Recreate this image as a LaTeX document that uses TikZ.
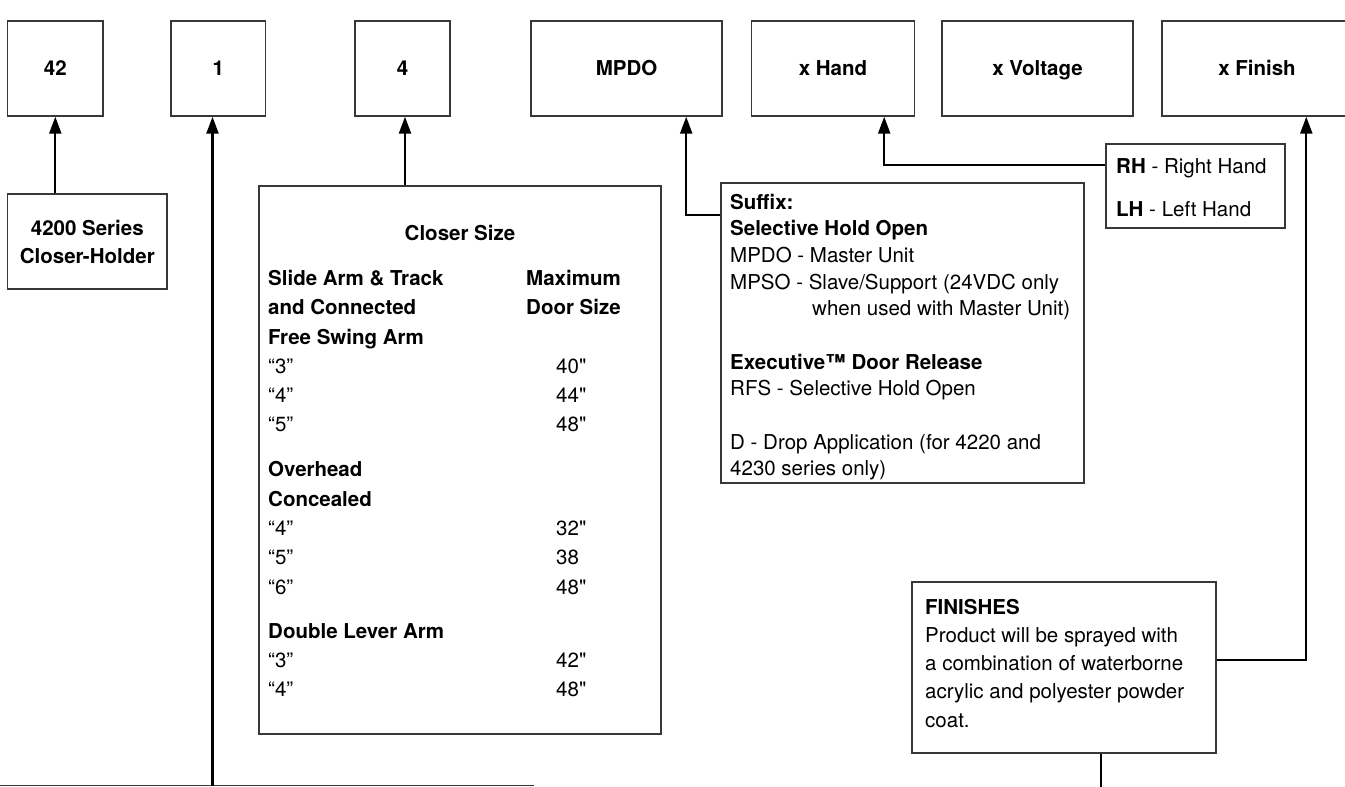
\documentclass[tikz,border=0pt]{standalone}
\usepackage{fontspec}
\setmainfont{TeX Gyre Heros}
\usetikzlibrary{arrows.meta}
\begin{document}
\begin{tikzpicture}[x=1pt,y=-1pt,
  box/.style={draw=black!78, line width=1.4pt, inner sep=0pt, fill=white,
    font=\fontsize{20.5}{24}\selectfont\bfseries},
  topbox/.style={box, minimum height=95pt, text height=19.1pt, text depth=4.3pt},
  arr/.style={line width=2.3pt, -{Triangle[length=17pt,width=12pt]}},
  wire/.style={line width=2.3pt},
  thinwire/.style={line width=1.4pt, draw=black!78},
  tx/.style={anchor=base west, inner sep=0pt, font=\fontsize{20.5}{24}\selectfont},
]
\useasboundingbox (0,0) rectangle (1345,787);

% top row
\node[topbox, minimum width=95.4pt] (b42) at (55.3,68.5) {42};
\node[topbox, minimum width=94.6pt] (b1) at (218.3,68.5) {1};
\node[topbox, minimum width=95pt] (b4) at (402.5,68.5) {4};
\node[topbox, minimum width=191pt] (mp) at (626.5,68.5) {MPDO};
\node[topbox, minimum width=163pt] (hand) at (833,68.5) {x Hand};
\node[topbox, minimum width=191pt] (volt) at (1037.5,68.5) {x Voltage};
\node[topbox, minimum width=190pt] (fin) at (1257,68.5) {x Finish};

% info boxes
\node[box, minimum width=159.4pt, minimum height=95pt, align=center,
  font=\fontsize{20.5}{28}\selectfont\bfseries] (ser) at (87.3,241.5) {4200 Series\\Closer-Holder};
\node[box, minimum width=402pt, minimum height=548pt] (closer) at (460,460) {};
\node[box, minimum width=363pt, minimum height=300pt] (suf) at (902.5,333) {};
\node[box, minimum width=179pt, minimum height=84pt] (rh) at (1195.5,186) {};
\node[box, minimum width=304pt, minimum height=171pt] (fb) at (1064,667.5) {};

% closer size text
\node[tx, anchor=base, font=\fontsize{20.5}{24}\selectfont\bfseries] (ctitle) at (460,240.3) {Closer Size};
\foreach \yy/\lab [count=\i] in {
  285.3/{\textbf{Slide Arm \& Track}},
  314.3/{\textbf{and Connected}},
  344.3/{\textbf{Free Swing Arm}},
  373.3/{“3”}, 402.3/{“4”}, 431.3/{“5”},
  476.3/{\textbf{Overhead}},
  506.3/{\textbf{Concealed}},
  535.3/{“4”}, 564.3/{“5”}, 594.3/{“6”},
  638.3/{\textbf{Double Lever Arm}},
  667.3/{“3”}, 696.3/{“4”}}
  \node[tx] (cl\i) at (268,\yy) {\lab};
\node[tx, font=\fontsize{20.5}{24}\selectfont\bfseries] (cmax) at (526,285.3) {Maximum};
\node[tx, font=\fontsize{20.5}{24}\selectfont\bfseries] (cdoor) at (526,314.3) {Door Size};
\foreach \yy/\lab [count=\i] in {
  373.3/{40\textquotedbl}, 402.3/{44\textquotedbl}, 431.3/{48\textquotedbl},
  535.3/{32\textquotedbl}, 564.3/{38}, 594.3/{48\textquotedbl},
  667.3/{42\textquotedbl}, 696.3/{48\textquotedbl}}
  \node[tx] (cr\i) at (556,\yy) {\lab};

% suffix text
\foreach \yy/\lab [count=\i] in {
  209.3/{\textbf{Suffix:}},
  235.3/{\textbf{Selective Hold Open}},
  262.3/{MPDO - Master Unit},
  289.3/{MPSO - Slave/Support (24VDC only},
  369.3/{\textbf{Executive™ Door Release}},
  395.3/{RFS - Selective Hold Open},
  449.3/{D - Drop Application (for 4220 and},
  475.3/{4230 series only)}}
  \node[tx] (sl\i) at (730,\yy) {\lab};
\node[tx] (swhen) at (812,315.3) {when used with Master Unit)};

% hand text
\node[tx] (rht) at (1116,173) {\textbf{RH} - Right Hand};
\node[tx] (lht) at (1116,216.3) {\textbf{LH} - Left Hand};

% finishes text
\foreach \yy/\lab [count=\i] in {
  614/{\textbf{FINISHES}},
  642.3/{Product will be sprayed with},
  670.3/{a combination of waterborne},
  698.6/{acrylic and polyester powder},
  727.6/{coat.}}
  \node[tx] (fl\i) at (925,\yy) {\lab};

% connectors
\coordinate (bl0) at (0,785.5);
\coordinate (bl1) at (534,785.5);
\coordinate (j1) at (212.5,785.5);
\coordinate (fend) at (1101,788);
\draw[thinwire] (bl0) -- (bl1);
\draw[arr] (j1) -- (j1 |- b1.south);
\draw[arr] (b42.south |- ser.north) -- (b42.south);
\draw[arr] ([xshift=2.5pt]b4.south |- closer.north) -- ([xshift=2.5pt]b4.south);
\draw[arr] ([yshift=-33pt]suf.north west) -| ([xshift=-36.5pt]mp.south east);
\draw[arr] ([yshift=-22pt]rh.north west) -| ([xshift=-31pt]hand.south east);
\draw[arr] ([yshift=-79pt]fb.north east) -| ([xshift=145pt]fin.south west);
\draw[wire] ([xshift=37pt]fb.south) -- (fend);
\end{tikzpicture}
\end{document}
